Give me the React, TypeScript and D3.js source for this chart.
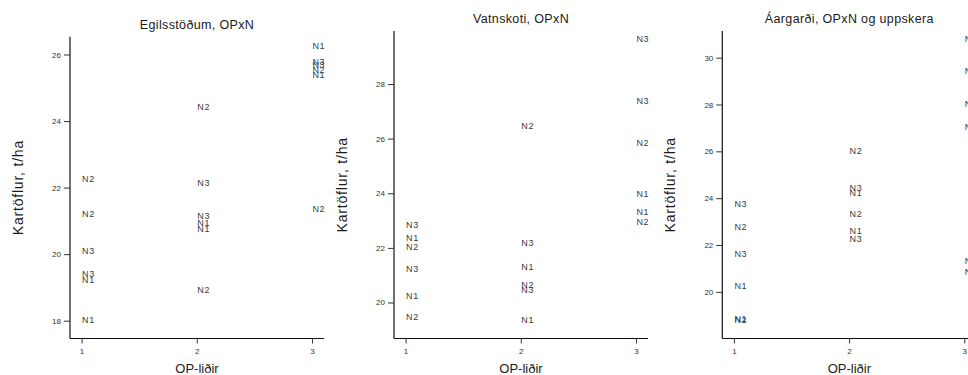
import React from 'react'
import * as d3 from 'd3'

// OP-liðir (x), N-level label and yield (t/ha) for each plot
const opLevels = [1, 1, 1, 1, 1, 1, 2, 2, 2, 2, 2, 2, 3, 3, 3, 3, 3, 3]
const nLabels = ['N1', 'N1', 'N2', 'N2', 'N3', 'N3', 'N1', 'N1', 'N2', 'N2', 'N3', 'N3', 'N1', 'N1', 'N2', 'N2', 'N3', 'N3']

const egilsYield = [18.03, 19.25, 21.23, 22.27, 20.1, 19.43, 20.95, 20.77, 24.45, 18.93, 22.15, 21.15, 26.28, 25.4, 25.55, 21.38, 25.79, 25.7]
const vatnsYield = [22.39, 20.26, 22.04, 19.47, 22.84, 21.23, 21.33, 19.36, 26.48, 20.67, 22.19, 20.48, 24.0, 23.35, 25.87, 22.98, 29.66, 27.4]
const aarYield = [20.26, 18.85, 22.78, 18.83, 23.76, 21.64, 24.26, 22.64, 26.04, 23.33, 24.45, 22.26, 27.07, 21.33, 28.03, 20.89, 30.81, 29.45]

const egilsTicks = [18, 20, 22, 24, 26]
const vatnsTicks = [20, 22, 24, 26, 28]
const aarTicks = [20, 22, 24, 26, 28, 30]
const opTicks = [1, 2, 3]

const titles = ['Egilsstöðum, OPxN', 'Vatnskoti, OPxN', 'Áargarði, OPxN og uppskera']

const FONT = '"Liberation Sans", Arial, sans-serif'

type PanelProps = {
  title: string
  labels: string[]
  values: number[]
  yTicks: number[]
  yDomain: [number, number]
  left: number
  top: number
}

const Panel = ({ title, labels, values, yTicks, yDomain, left, top }: PanelProps) => {
  const bottom = 338.5
  const plotW = 254
  const x = d3.scaleLinear().domain([0.895, 3.1]).range([left, left + plotW])
  const y = d3.scaleLinear().domain(yDomain).range([bottom, top])
  const midY = (top + bottom) / 2
  const midX = left + plotW / 2

  return (
    <g>
      <text x={midX} y={top - 12} textAnchor="middle" dominantBaseline="central"
        fontSize={12.5} letterSpacing={0.35} fill="#1a1a1a">{title}</text>
      <line x1={left} x2={left} y1={top} y2={bottom} stroke="#111" strokeWidth={1.2} />
      <line x1={left} x2={left + plotW} y1={bottom} y2={bottom} stroke="#111" strokeWidth={1.2} />
      {yTicks.map(t => (
        <g key={t}>
          <line x1={left - 6} x2={left} y1={y(t)} y2={y(t)} stroke="#333" />
          <text x={left - 9} y={y(t)} textAnchor="end" dominantBaseline="central"
            fontSize={8} fill="#333">{t}</text>
        </g>
      ))}
      {opTicks.map(t => (
        <g key={t}>
          <line x1={x(t)} x2={x(t)} y1={bottom} y2={bottom + 5} stroke="#333" />
          <text x={x(t)} y={bottom + 13} textAnchor="middle" dominantBaseline="central"
            fontSize={8} fill="#333">{t}</text>
        </g>
      ))}
      {values.map((v, i) => (
        <text key={i} x={x(opLevels[i])} y={y(v)} dominantBaseline="central"
          fontSize={9} letterSpacing={0.6} fill="#3a3a3a">{labels[i]}</text>
      ))}
      <text x={midX} y={368} textAnchor="middle" dominantBaseline="central"
        fontSize={13} fill="#1a1a1a">OP-liðir</text>
      <text transform={`translate(${left - 52},${midY}) rotate(-90)`} textAnchor="middle"
        dominantBaseline="central" fontSize={14} letterSpacing={0.8} fill="#1a1a1a">Kartöflur,  t/ha</text>
    </g>
  )
}

export default function App() {
  return (
    <svg width={968} height={375} style={{ position: 'absolute', left: 0, top: 0, fontFamily: FONT }}>
      <rect width={968} height={375} fill="#fff" />
      <Panel title={titles[0]} labels={nLabels} values={egilsYield} yTicks={egilsTicks}
        yDomain={[17.48, 26.55]} left={70} top={36.7} />
      <Panel title={titles[1]} labels={nLabels} values={vatnsYield} yTicks={vatnsTicks}
        yDomain={[18.7, 29.96]} left={394} top={31} />
      <Panel title={titles[2]} labels={nLabels} values={aarYield} yTicks={aarTicks}
        yDomain={[18.03, 31.16]} left={722.3} top={31} />
    </svg>
  )
}
